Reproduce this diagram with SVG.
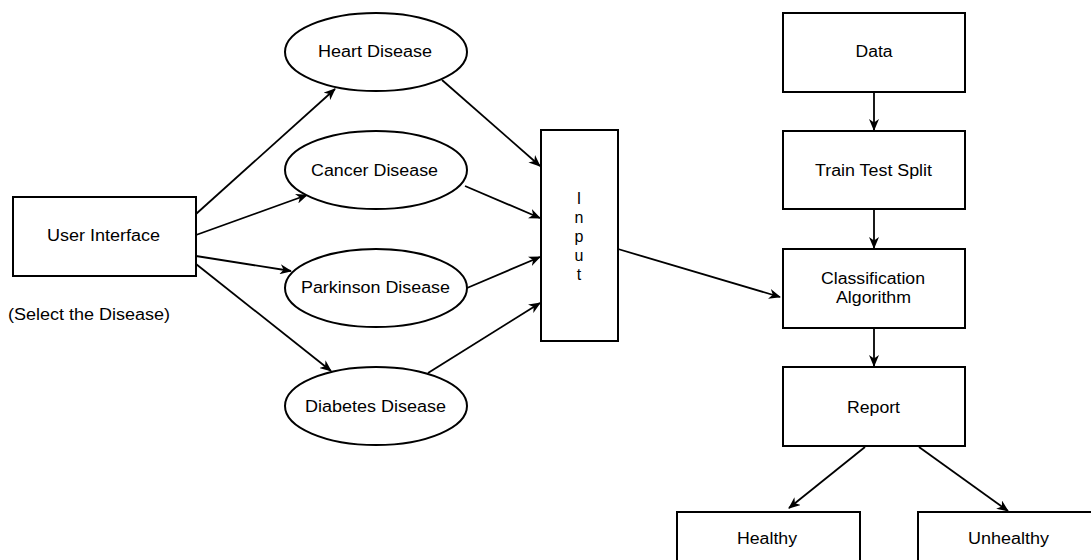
<svg xmlns="http://www.w3.org/2000/svg" width="1091" height="560" viewBox="0 0 1091 560">
<defs>
<style>
.box{fill:#fff;stroke:#000;stroke-width:2}
.t{font-family:"Liberation Sans",Arial,sans-serif;font-size:16px;fill:#000;text-anchor:middle}
.c{fill:none;stroke:#000;stroke-width:1.8}
</style>
<marker id="ah" viewBox="0 0 12 10" refX="11" refY="5" markerWidth="12" markerHeight="10" markerUnits="userSpaceOnUse" orient="auto">
<path d="M0,0 L12,5 L0,10 L3.5,5 z" fill="#000"/>
</marker>
</defs>
<rect width="1091" height="560" fill="#fff"/>
<g id="connectors">
<line class="c" x1="196" y1="214" x2="335" y2="89" marker-end="url(#ah)"/>
<line class="c" x1="196" y1="235" x2="307" y2="195" marker-end="url(#ah)"/>
<line class="c" x1="196" y1="256" x2="291" y2="271" marker-end="url(#ah)"/>
<line class="c" x1="196" y1="264" x2="331" y2="371" marker-end="url(#ah)"/>
<line class="c" x1="442" y1="80" x2="540" y2="166" marker-end="url(#ah)"/>
<line class="c" x1="465" y1="186" x2="540" y2="218" marker-end="url(#ah)"/>
<line class="c" x1="467" y1="288" x2="540" y2="257" marker-end="url(#ah)"/>
<line class="c" x1="428" y1="373" x2="540" y2="303" marker-end="url(#ah)"/>
<line class="c" x1="618" y1="249" x2="780" y2="297" marker-end="url(#ah)"/>
<line class="c" x1="874" y1="92" x2="874" y2="130" marker-end="url(#ah)"/>
<line class="c" x1="874" y1="209" x2="874" y2="248" marker-end="url(#ah)"/>
<line class="c" x1="874" y1="328" x2="874" y2="366" marker-end="url(#ah)"/>
<line class="c" x1="865" y1="447" x2="789" y2="508" marker-end="url(#ah)"/>
<line class="c" x1="919" y1="447" x2="1008" y2="511" marker-end="url(#ah)"/>
</g>
<g id="user-interface">
<rect class="box" x="13" y="197" width="183" height="79"/>
<text class="t" x="103.5" y="241" textLength="113" lengthAdjust="spacingAndGlyphs">User Interface</text>
</g>
<g id="select-label">
<text class="t" x="89" y="320" textLength="162" lengthAdjust="spacingAndGlyphs">(Select the Disease)</text>
</g>
<g id="heart">
<ellipse class="box" cx="376" cy="52" rx="91" ry="39"/>
<text class="t" x="375" y="57" textLength="114" lengthAdjust="spacingAndGlyphs">Heart Disease</text>
</g>
<g id="cancer">
<ellipse class="box" cx="376" cy="170" rx="91" ry="39"/>
<text class="t" x="374.5" y="176" textLength="127" lengthAdjust="spacingAndGlyphs">Cancer Disease</text>
</g>
<g id="parkinson">
<ellipse class="box" cx="376" cy="288" rx="91" ry="39"/>
<text class="t" x="375.5" y="293" textLength="149" lengthAdjust="spacingAndGlyphs">Parkinson Disease</text>
</g>
<g id="diabetes">
<ellipse class="box" cx="376" cy="406" rx="91" ry="39"/>
<text class="t" x="375.5" y="412" textLength="141" lengthAdjust="spacingAndGlyphs">Diabetes Disease</text>
</g>
<g id="input">
<rect class="box" x="541" y="130" width="77" height="211"/>
<text class="t" x="579" y="204">I</text>
<text class="t" x="579" y="223">n</text>
<text class="t" x="579" y="242">p</text>
<text class="t" x="579" y="261">u</text>
<text class="t" x="579" y="280">t</text>
</g>
<g id="data">
<rect class="box" x="783" y="13" width="182" height="79"/>
<text class="t" x="874" y="57" textLength="37" lengthAdjust="spacingAndGlyphs">Data</text>
</g>
<g id="train-test-split">
<rect class="box" x="783" y="131" width="182" height="78"/>
<text class="t" x="873.5" y="176" textLength="117" lengthAdjust="spacingAndGlyphs">Train Test Split</text>
</g>
<g id="classification">
<rect class="box" x="783" y="249" width="182" height="79"/>
<text class="t" x="873" y="284" textLength="104" lengthAdjust="spacingAndGlyphs">Classification</text>
<text class="t" x="873.5" y="303" textLength="75" lengthAdjust="spacingAndGlyphs">Algorithm</text>
</g>
<g id="report">
<rect class="box" x="783" y="367" width="182" height="79"/>
<text class="t" x="873.5" y="413" textLength="53" lengthAdjust="spacingAndGlyphs">Report</text>
</g>
<g id="healthy">
<rect class="box" x="677" y="512" width="183" height="79"/>
<text class="t" x="767" y="544" textLength="60" lengthAdjust="spacingAndGlyphs">Healthy</text>
</g>
<g id="unhealthy">
<rect class="box" x="918" y="512" width="183" height="79"/>
<text class="t" x="1008.5" y="544" textLength="81" lengthAdjust="spacingAndGlyphs">Unhealthy</text>
</g>
</svg>
